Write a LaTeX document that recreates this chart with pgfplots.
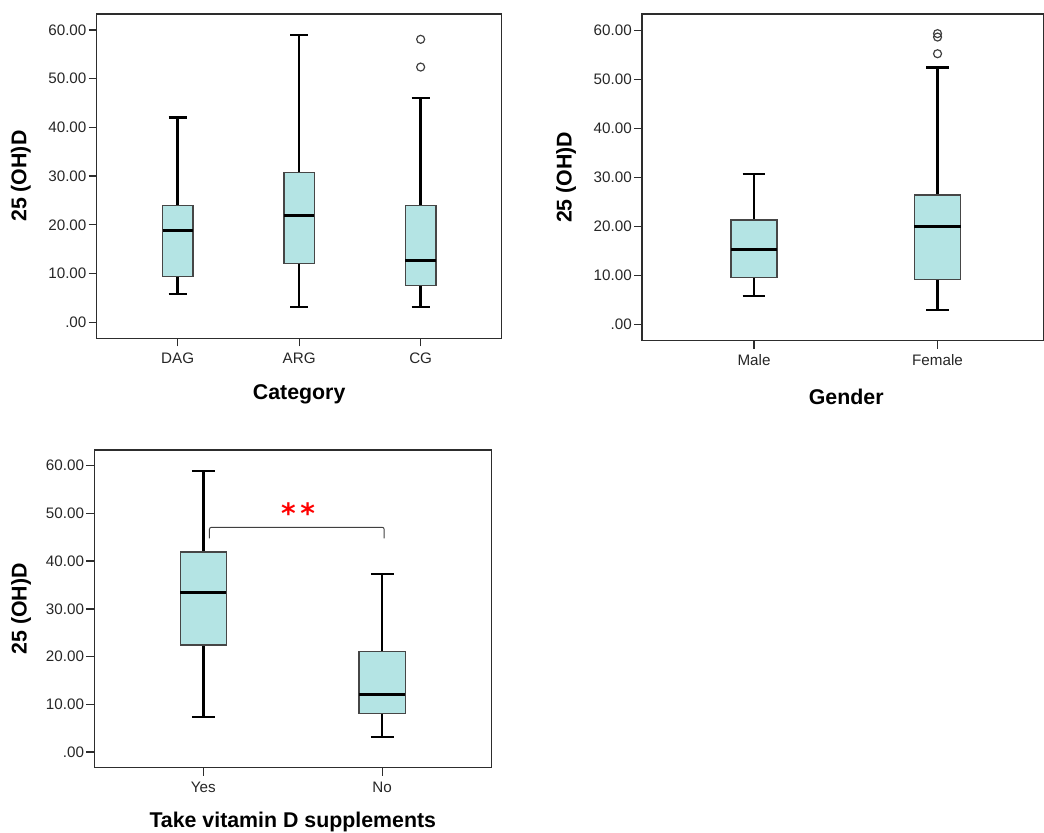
\documentclass[border=0pt]{standalone}
\usepackage{fontspec}
\setmainfont{Liberation Sans}
\newfontfamily\starfont{DejaVu Sans}
\usepackage{pgfplots}
\pgfplotsset{compat=1.18}
\usepgfplotslibrary{statistics}

\definecolor{boxfill}{RGB}{180,228,228}
\definecolor{frame}{RGB}{45,45,45}
\definecolor{boxedge}{RGB}{70,70,70}

\pgfplotsset{
  spss/.style={
    scale only axis, anchor=north west,
    axis line style={draw=frame, line width=1.1pt},
    ymin=-3.3, ymax=63.3,
    ytick={0,10,20,30,40,50,60},
    yticklabels={.00,10.00,20.00,30.00,40.00,50.00,60.00},
    tick align=outside, xtick pos=left, ytick pos=left,
    major tick length=6pt,
    tick style={draw=frame, line width=1pt},
    tick label style={font=\fontsize{11.4}{13}\selectfont, text=black!85},
    yticklabel style={inner xsep=1.5pt},
    xticklabel style={inner ysep=4.5pt},
    label style={font=\bfseries\fontsize{16}{18}\selectfont},
    ylabel={25 (OH)D},
    boxplot/draw direction=y,
    boxplot/every box/.style={draw=boxedge, line width=1pt, fill=boxfill},
    boxplot/every whisker/.style={draw=black, line width=1.85pt},
    boxplot/every median/.style={draw=black, line width=2.6pt},
    outlier/.style={only marks, mark=o, mark size=3pt,
      mark options={draw=black!75, line width=0.9pt}},
  },
}

\begin{document}
\begin{tikzpicture}[x=1pt,y=1pt]
\useasboundingbox (0,0) rectangle (783,624);

% ---- Category ----
\begin{axis}[spss, at={(72.5pt,613.5pt)}, width=303.75pt, height=243.2pt,
  xmin=0.333, xmax=3.667, xtick={1,2,3}, xticklabels={DAG,ARG,CG},
  xlabel={Category},
  ylabel style={at={(axis description cs:-0.187,0.5)}, anchor=center},
  xlabel style={at={(axis description cs:0.5,-0.172)}, anchor=center},
  boxplot/box extend=0.25, boxplot/whisker extend=0.15]
\addplot[boxplot prepared={draw position=1, lower whisker=5.8,
  lower quartile=9.4, median=18.8, upper quartile=23.9, upper whisker=42.0}]
  coordinates {};
\addplot[boxplot prepared={draw position=2, lower whisker=3.1,
  lower quartile=12.1, median=21.9, upper quartile=30.8, upper whisker=59.0}]
  coordinates {};
\addplot[boxplot prepared={draw position=3, lower whisker=3.1,
  lower quartile=7.6, median=12.7, upper quartile=24.0, upper whisker=46.1}]
  coordinates {};
\addplot[outlier] coordinates {(3,58.1) (3,52.4)};
\end{axis}

% ---- Gender ----
\begin{axis}[spss, at={(481.5pt,613.5pt)}, width=301.5pt, height=245pt,
  xmin=0.39, xmax=2.58, xtick={1,2}, xticklabels={Male,Female},
  xlabel={Gender},
  ylabel style={at={(axis description cs:-0.189,0.5)}, anchor=center},
  xlabel style={at={(axis description cs:0.508,-0.172)}, anchor=center},
  boxplot/box extend=0.252, boxplot/whisker extend=0.124]
\addplot[boxplot prepared={draw position=1, lower whisker=5.8,
  lower quartile=9.6, median=15.3, upper quartile=21.3, upper whisker=30.7}]
  coordinates {};
\addplot[boxplot prepared={draw position=2, lower whisker=2.9,
  lower quartile=9.2, median=20.0, upper quartile=26.4, upper whisker=52.4}]
  coordinates {};
\addplot[outlier] coordinates {(2,59.3) (2,58.6) (2,55.2)};
\end{axis}

% ---- Vitamin D supplements ----
\begin{axis}[spss, at={(70.7pt,286.5pt)}, width=297.75pt, height=238.3pt,
  xmin=0.39, xmax=2.61, xtick={1,2}, xticklabels={Yes,No},
  xlabel={Take vitamin D supplements},
  ylabel style={at={(axis description cs:-0.184,0.5)}, anchor=center},
  xlabel style={at={(axis description cs:0.5,-0.171)}, anchor=center},
  boxplot/box extend=0.258, boxplot/whisker extend=0.127]
\addplot[boxplot prepared={draw position=1, lower whisker=7.3,
  lower quartile=22.4, median=33.4, upper quartile=41.9, upper whisker=58.9}]
  coordinates {};
\addplot[boxplot prepared={draw position=2, lower whisker=3.1,
  lower quartile=8.1, median=12.1, upper quartile=21.1, upper whisker=37.3}]
  coordinates {};
% significance bracket
\draw[draw=black!75, line width=0.7pt, rounded corners=1.5pt]
  (axis cs:1.034,44.8) -- (axis cs:1.034,47.1) -- (axis cs:2.011,47.1)
  -- (axis cs:2.011,44.8);
\node[text=red, font=\starfont\bfseries\fontsize{21}{21}\selectfont,
  inner sep=0pt] at (axis cs:1.53,50.1) {*\,*};
\end{axis}
\end{tikzpicture}
\end{document}
